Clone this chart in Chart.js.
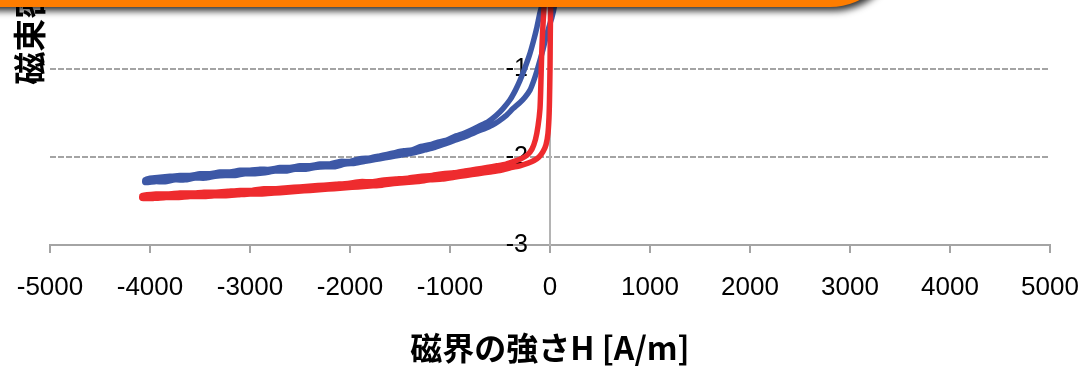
<!DOCTYPE html>
<html>
<head>
<meta charset="utf-8">
<script src="https://cdn.jsdelivr.net/npm/chart.js@4.4.1/dist/chart.umd.min.js"></script>
<style>
  html, body { margin: 0; padding: 0; width: 1084px; height: 366px; overflow: hidden; background: #fff; }
  #wrap { position: absolute; left: 0; top: -290px; width: 1084px; height: 670px; }
  #banner {
    position: absolute; left: -40px; top: -70px; width: 936px; height: 77px;
    background: #ff7d00; border-radius: 0 0 66px 0;
    box-shadow: 3px 4px 7px rgba(0, 0, 0, 0.8);
  }
</style>
</head>
<body>
<div id="wrap"><canvas id="c"></canvas></div>
<div id="banner"></div>
<script>
// Tick positions
const hTicks = [-5000, -4000, -3000, -2000, -1000, 0, 1000, 2000, 3000, 4000, 5000];
const bTicks = [-3, -2, -1, 0, 1, 2, 3];

// Blue loop: descending branch (top -> tip), then ascending branch (tip -> top)
const blueH = [
  -40, -100, -130, -165, -205, -255, -300, -345, -400, -470, -540, -620, -710, -780, -860, -940,
  -1040, -1120, -1200, -1290, -1380, -1460, -1550, -1630, -1710, -1800, -1900, -2000, -2100, -2200,
  -2300, -2400, -2500, -2600, -2700, -2800, -2900, -3000, -3100, -3200, -3300, -3400, -3500, -3600,
  -3700, -3800, -3900, -4000, -4050,
  -4050, -3950, -3850, -3750, -3650, -3550, -3450, -3350, -3250, -3150, -3050, -2950, -2850, -2750,
  -2650, -2550, -2450, -2350, -2250, -2150, -2050, -1950, -1850, -1750, -1650, -1550, -1450, -1350,
  -1250, -1150, -1050, -950, -850, -750, -660, -580, -510, -440, -370, -300, -250, -200, -165, -130,
  -100, -70, -40, -10, 20, 45, 60
];
const blueB = [
  -0.10, -0.36, -0.52, -0.68, -0.84, -1.00, -1.13, -1.24, -1.35, -1.45, -1.53, -1.60, -1.65, -1.69, -1.73, -1.76,
  -1.81, -1.83, -1.86, -1.88, -1.92, -1.93, -1.95, -1.97, -1.99, -2.01, -2.02, -2.05, -2.05, -2.08,
  -2.08, -2.10, -2.10, -2.12, -2.12, -2.14, -2.14, -2.15, -2.15, -2.17, -2.17, -2.19, -2.19, -2.21,
  -2.21, -2.22, -2.23, -2.24, -2.26,
  -2.29, -2.28, -2.28, -2.26, -2.26, -2.24, -2.24, -2.22, -2.21, -2.21, -2.19, -2.19, -2.18, -2.16,
  -2.16, -2.14, -2.14, -2.12, -2.11, -2.11, -2.08, -2.07, -2.05, -2.03, -2.01, -1.99, -1.97, -1.95,
  -1.92, -1.89, -1.85, -1.81, -1.77, -1.72, -1.68, -1.64, -1.59, -1.53, -1.45, -1.38, -1.32, -1.24, -1.14, -1.02,
  -0.90, -0.78, -0.64, -0.52, -0.41, -0.28, -0.10
];

// Red loop: descending branch (top -> tip), then ascending branch (tip -> top)
const redH = [
  -50, -60, -75, -85, -92, -100, -120, -145, -180, -230, -290, -360, -440, -530, -630, -740,
  -850, -960, -1070, -1180, -1300, -1420, -1540, -1660, -1780, -1900, -2020, -2140, -2260, -2380,
  -2500, -2620, -2740, -2860, -2980, -3100, -3220, -3340, -3460, -3580, -3700, -3820, -3940, -4080,
  -4080, -3960, -3840, -3720, -3600, -3480, -3360, -3240, -3120, -3000, -2880, -2760, -2640, -2520,
  -2400, -2280, -2160, -2040, -1920, -1800, -1680, -1560, -1440, -1320, -1200, -1080, -960, -840,
  -720, -600, -490, -390, -300, -220, -160, -110, -70, -40, -20, -10, -5, 0, 3, 6, 10
];
const redB = [
  -0.10, -0.30, -0.60, -0.90, -1.20, -1.45, -1.65, -1.80, -1.91, -1.98, -2.02, -2.05, -2.08, -2.10, -2.12, -2.14,
  -2.16, -2.18, -2.19, -2.21, -2.22, -2.24, -2.25, -2.26, -2.28, -2.28, -2.30, -2.31, -2.32, -2.33,
  -2.34, -2.35, -2.36, -2.36, -2.38, -2.38, -2.39, -2.40, -2.40, -2.41, -2.41, -2.42, -2.42, -2.44,
  -2.47, -2.47, -2.46, -2.46, -2.45, -2.45, -2.44, -2.44, -2.43, -2.42, -2.42, -2.41, -2.40, -2.39,
  -2.38, -2.37, -2.36, -2.35, -2.34, -2.33, -2.32, -2.30, -2.29, -2.28, -2.26, -2.25, -2.23, -2.21,
  -2.19, -2.17, -2.15, -2.12, -2.10, -2.07, -2.04, -2.00, -1.94, -1.86, -1.73, -1.55, -1.35, -1.00, -0.60, -0.30, -0.10
];

const toPoints = (hs, bs) => hs.map((h, i) => ({ x: h, y: bs[i] }));

const gridGray = '#a4a4a4';
const cjkFont = "'Noto Sans CJK JP', 'Noto Sans CJK SC', sans-serif";
const latinFont = "'Liberation Sans', Arial, sans-serif";

new Chart(document.getElementById('c'), {
  type: 'scatter',
  data: {
    datasets: [
      { label: 'red', data: toPoints(redH, redB), showLine: true, borderColor: '#ee2b2e', backgroundColor: '#ee2b2e' },
      { label: 'blue', data: toPoints(blueH, blueB), showLine: true, borderColor: '#3d58a6', backgroundColor: '#3d58a6' }
    ]
  },
  options: {
    responsive: true,
    maintainAspectRatio: false,
    animation: false,
    events: [],
    layout: { padding: { top: 7, right: 34, left: 0, bottom: 0 } },
    plugins: { legend: { display: false }, tooltip: { enabled: false } },
    elements: {
      point: { radius: 0 },
      line: { borderWidth: 5.5, tension: 0.2, borderCapStyle: 'round', borderJoinStyle: 'round' }
    },
    scales: {
      x: {
        type: 'linear',
        position: 'bottom',
        min: -5000,
        max: 5000,
        afterBuildTicks: s => { s.ticks = hTicks.map(v => ({ value: v })); },
        afterFit: s => { s.paddingLeft = 0; s.paddingRight = 0; s.height = 135; },
        grid: { drawOnChartArea: false, drawTicks: true, tickLength: 8, color: gridGray, lineWidth: 2 },
        border: { display: true, color: gridGray, width: 2 },
        ticks: {
          font: { family: latinFont, size: 26 }, color: '#000', padding: 19,
          maxRotation: 0, autoSkip: false, callback: v => String(v)
        },
        title: {
          display: true, text: '磁界の強さH [A/m]', color: '#000',
          font: { family: cjkFont, size: 32, weight: 'bold' },
          padding: { top: 10, bottom: 13 }
        }
      },
      // vertical axis line and dashed grid, crossing at H = 0
      y: {
        type: 'linear',
        position: { x: 0 },
        min: -3,
        max: 3,
        afterBuildTicks: s => { s.ticks = bTicks.map(v => ({ value: v })); },
        afterFit: s => { s.paddingTop = 0; s.paddingBottom = 0; },
        grid: { color: gridGray, lineWidth: 2, drawTicks: false },
        border: { display: true, color: '#b4b4b4', width: 2, dash: [6, 2] },
        ticks: { display: false }
      },
      // tick labels of the vertical axis, set just left of the axis line
      yl: {
        type: 'linear',
        position: { x: -220 },
        min: -3,
        max: 3,
        afterBuildTicks: s => { s.ticks = bTicks.map(v => ({ value: v })); },
        afterFit: s => { s.paddingTop = 0; s.paddingBottom = 0; },
        grid: { display: false, drawTicks: false },
        border: { display: false },
        ticks: { font: { family: latinFont, size: 25 }, color: '#000', padding: 0, callback: v => String(v) }
      },
      // axis title on the left edge
      yt: {
        type: 'linear',
        position: 'left',
        min: -3,
        max: 3,
        afterFit: s => { s.width = 50; s.paddingTop = 0; s.paddingBottom = 0; },
        ticks: { display: false },
        grid: { display: false, drawTicks: false },
        border: { display: false },
        title: {
          display: true, text: '磁束密度B [T]', color: '#000',
          font: { family: cjkFont, size: 33, weight: 'bold' },
          padding: { top: 10, bottom: 0 }
        }
      }
    }
  }
});
</script>
</body>
</html>
